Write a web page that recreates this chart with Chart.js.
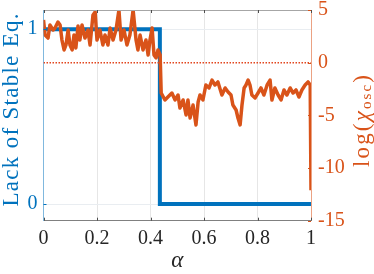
<!DOCTYPE html>
<html>
<head>
<meta charset="utf-8">
<script src="https://cdn.jsdelivr.net/npm/chart.js@4"></script>
<style>
  html, body { margin: 0; padding: 0; background: #fff; }
  #chart { display: block; }
</style>
</head>
<body>
<canvas id="chart" width="374" height="274"></canvas>
<script>
// step curve: lack of stable equilibrium vs alpha
const alphaStable = [0, 0.435, 0.435, 1];
const lackStable = [1, 1, 0, 0];

// noisy log(chi_osc) vs alpha
const alphaOsc = [0, 0.006, 0.017, 0.024, 0.036, 0.043, 0.054, 0.062, 0.069, 0.077,
  0.084, 0.092, 0.099, 0.107, 0.114, 0.121, 0.129, 0.136, 0.144, 0.155,
  0.166, 0.174, 0.185, 0.193, 0.2, 0.211, 0.222, 0.23, 0.241, 0.249,
  0.26, 0.271, 0.282, 0.29, 0.301, 0.312, 0.323, 0.335, 0.346, 0.353,
  0.361, 0.372, 0.383, 0.391, 0.398, 0.406, 0.413, 0.421, 0.428, 0.436,
  0.44, 0.454, 0.465, 0.48, 0.492, 0.503, 0.51, 0.522, 0.533, 0.54,
  0.548, 0.559, 0.57, 0.578, 0.585, 0.596, 0.607, 0.619, 0.63, 0.641,
  0.652, 0.667, 0.679, 0.69, 0.701, 0.708, 0.72, 0.727, 0.735, 0.742,
  0.75, 0.757, 0.765, 0.772, 0.779, 0.791, 0.802, 0.813, 0.824, 0.836,
  0.847, 0.854, 0.865, 0.877, 0.888, 0.899, 0.91, 0.922, 0.933, 0.944,
  0.955, 0.966, 0.978, 0.989, 0.997, 1.0];
const logChiOsc = [4.05, 2.63, 2.34, 3.58, 3.10, 3.29, 3.86, 3.58, 2.15, 1.21,
  1.68, 3.10, 1.68, 1.21, 2.63, 1.40, 3.48, 2.15, 3.58, 2.34,
  3.10, 1.68, 4.53, 4.81, 2.15, 3.10, 1.68, 2.63, 1.68, 3.29,
  2.15, 3.10, 5.0, 2.15, 3.10, 1.68, 2.63, 5.0, 2.15, 1.21,
  2.63, 1.21, 2.15, 0.73, 2.15, 3.29, 0.73, 0.45, 1.21, 0.73,
  -2.88, -3.54, -3.26, -2.88, -3.54, -3.07, -4.30, -3.54, -4.96, -3.54,
  -5.25, -4.02, -5.91, -3.73, -3.07, -3.54, -2.12, -2.40, -1.65, -2.12,
  -1.83, -3.07, -2.40, -2.78, -3.07, -4.02, -4.49, -5.25, -5.91, -4.02,
  -2.40, -2.12, -1.65, -2.12, -3.07, -3.35, -2.88, -2.40, -3.07, -2.12,
  -1.65, -3.54, -2.40, -3.07, -3.54, -2.59, -3.07, -2.40, -2.88, -2.59,
  -3.26, -2.59, -2.12, -1.83, -2.12, -12.1];

// dotted reference level on the right axis
const refAlpha = [0, 1];
const refLevel = [0, 0];

const xTicks = [0, 0.2, 0.4, 0.6, 0.8, 1];
const leftTicks = [0, 1];
const rightTicks = [-15, -10, -5, 0, 5];

const BLUE = '#0072BD';
const ORANGE = '#D95319';
const SERIF = '"Liberation Serif", "Times New Roman", serif';

const toPoints = (xs, ys) => xs.map((x, i) => ({ x: x, y: ys[i] }));

// fix scale size and drop the edge-label padding so the plot box lands where it should
function fixScale(s, w, h) {
  if (w != null) s.width = w;
  if (h != null) s.height = h;
  s.paddingTop = 0;
  s.paddingBottom = 0;
  s.paddingLeft = 0;
  s.paddingRight = 0;
}

// draw text spread to a given width, centred at (cx, cy), optionally rotated
function spreadText(ctx, parts, cx, cy, width, rot) {
  ctx.save();
  ctx.translate(cx, cy);
  ctx.rotate(rot);
  const chars = [];
  parts.forEach(p => {
    for (const ch of p.text) chars.push({ ch: ch, font: p.font, dy: p.dy || 0 });
  });
  let natural = 0;
  chars.forEach(c => { ctx.font = c.font; c.w = ctx.measureText(c.ch).width; natural += c.w; });
  const gap = chars.length > 1 ? (width - natural) / (chars.length - 1) : 0;
  let x = -width / 2;
  ctx.textBaseline = 'middle';
  ctx.textAlign = 'left';
  chars.forEach(c => {
    ctx.font = c.font;
    ctx.fillText(c.ch, x, c.dy);
    x += c.w + gap;
  });
  ctx.restore();
}

const framePlugin = {
  id: 'frame',
  afterDraw(chart) {
    const ctx = chart.ctx;
    const a = chart.chartArea;
    const xs = chart.scales.x, yl = chart.scales.y, yr = chart.scales.y2;
    ctx.save();
    ctx.lineWidth = 1;
    // top border
    ctx.strokeStyle = '#a6a6a6';
    ctx.beginPath();
    ctx.moveTo(a.left, a.top + 0.5);
    ctx.lineTo(a.right, a.top + 0.5);
    ctx.stroke();
    // inward tick marks
    ctx.strokeStyle = '#4d4d4d';
    xTicks.forEach(t => {
      const px = Math.round(xs.getPixelForValue(t)) + 0.5;
      ctx.beginPath();
      ctx.moveTo(px, a.bottom); ctx.lineTo(px, a.bottom - 3);
      ctx.moveTo(px, a.top); ctx.lineTo(px, a.top + 3);
      ctx.stroke();
    });
    ctx.strokeStyle = BLUE;
    leftTicks.forEach(t => {
      const py = Math.round(yl.getPixelForValue(t)) + 0.5;
      ctx.beginPath(); ctx.moveTo(a.left, py); ctx.lineTo(a.left + 3, py); ctx.stroke();
    });
    ctx.strokeStyle = ORANGE;
    rightTicks.forEach(t => {
      const py = Math.round(yr.getPixelForValue(t)) + 0.5;
      ctx.beginPath(); ctx.moveTo(a.right, py); ctx.lineTo(a.right - 3, py); ctx.stroke();
    });

    // axis titles
    ctx.fillStyle = BLUE;
    spreadText(ctx, [{ text: 'Lack of Stable Eq.', font: '23px ' + SERIF }], 12, 110, 193, -Math.PI / 2);
    ctx.fillStyle = ORANGE;
    spreadText(ctx, [
      { text: 'log(', font: '23px ' + SERIF },
      { text: 'χ', font: 'italic 23px ' + SERIF },
      { text: 'osc', font: '15px ' + SERIF, dy: 4 },
      { text: ')', font: '23px ' + SERIF }
    ], 363, 121, 92, -Math.PI / 2);
    ctx.fillStyle = '#262626';
    ctx.font = 'italic 23px ' + SERIF;
    ctx.textAlign = 'center';
    ctx.textBaseline = 'middle';
    ctx.fillText('α', (a.left + a.right) / 2, 261);
    ctx.restore();
  }
};

new Chart(document.getElementById('chart'), {
  type: 'line',
  data: {
    datasets: [
      {
        data: toPoints(alphaOsc, logChiOsc),
        yAxisID: 'y2',
        borderColor: ORANGE,
        borderWidth: 3.5,
        borderJoinStyle: 'round',
        pointRadius: 0,
        tension: 0,
        order: 0
      },
      {
        data: toPoints(refAlpha, refLevel),
        yAxisID: 'y2',
        borderColor: 'rgb(226,70,30)',
        borderWidth: 1.5,
        borderDash: [1.5, 1.5],
        pointRadius: 0,
        order: 1
      },
      {
        data: toPoints(alphaStable, lackStable),
        yAxisID: 'y',
        borderColor: BLUE,
        borderWidth: 4,
        borderJoinStyle: 'miter',
        pointRadius: 0,
        tension: 0,
        order: 2
      }
    ]
  },
  options: {
    responsive: false,
    animation: false,
    devicePixelRatio: 1,
    layout: { padding: { top: 10, left: 0, right: 0, bottom: 0 } },
    plugins: { legend: { display: false }, tooltip: { enabled: false } },
    scales: {
      x: {
        type: 'linear',
        min: 0,
        max: 1,
        afterBuildTicks: s => { s.ticks = xTicks.map(v => ({ value: v })); },
        afterFit: s => fixScale(s, null, 53.3),
        grid: { color: '#e6e6e6', drawTicks: false },
        border: { color: '#808080' },
        ticks: {
          padding: 6,
          color: '#262626',
          font: { family: SERIF, size: 20 },
          maxRotation: 0,
          callback: v => String(v)
        }
      },
      y: {
        position: 'left',
        min: -0.095,
        max: 1.11,
        afterBuildTicks: s => { s.ticks = leftTicks.map(v => ({ value: v })); },
        afterFit: s => fixScale(s, 43.5, null),
        grid: { color: '#e9edf1', drawTicks: false },
        border: { color: '#80b8de' },
        ticks: {
          padding: 6,
          color: BLUE,
          font: { family: SERIF, size: 20 },
          callback: v => String(v)
        }
      },
      y2: {
        position: 'right',
        min: -15,
        max: 5,
        afterBuildTicks: s => { s.ticks = rightTicks.map(v => ({ value: v })); },
        afterFit: s => fixScale(s, 63, null),
        grid: { display: false, drawTicks: false },
        border: { color: '#eba283' },
        ticks: {
          padding: 7,
          color: ORANGE,
          font: { family: SERIF, size: 20 },
          callback: v => String(v)
        }
      }
    }
  },
  plugins: [framePlugin]
});
</script>
</body>
</html>
